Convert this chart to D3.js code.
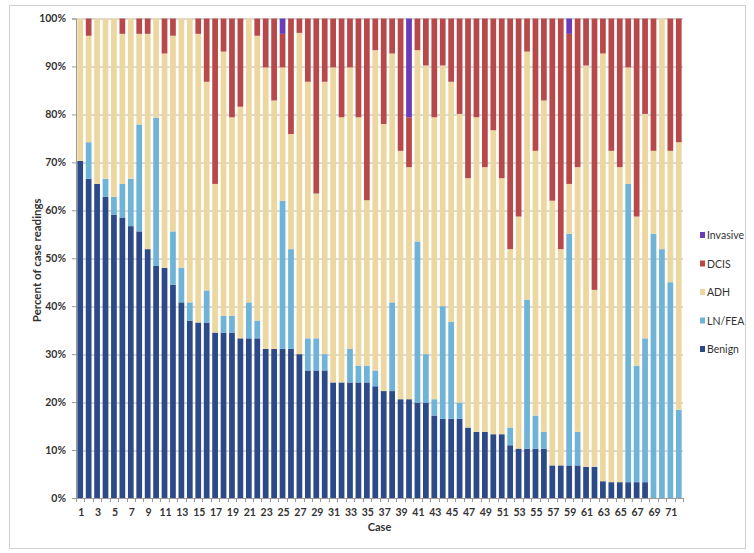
<!DOCTYPE html>
<html>
<head>
<meta charset="utf-8">
<script src="https://cdn.jsdelivr.net/npm/d3@7"></script>
<style>
    body { margin: 0; background: #fff; }
    #chart { width: 754px; height: 553px; }
    text { font-family: Lato, "Open Sans", sans-serif; fill: #333; }
</style>
</head>
<body>
<div id="chart"></div>
<script>
// Case numbers and odd tick labels
const cases = d3.range(1, 73);
const tickLabels = cases.filter((c) => c % 2 === 1);

// Percent of readings per case
const benign = [70.3, 66.6, 65.5, 62.8, 59.1, 58.5, 56.7, 55.6, 51.9, 48.4, 48.0, 44.5, 40.8, 37.0, 36.6, 36.6, 34.5, 34.5,
    34.5, 33.3, 33.3, 33.3, 31.1, 31.1, 31.1, 31.1, 30.0, 26.6, 26.6, 26.6, 24.1, 24.1, 24.1, 24.1, 24.1, 23.3,
    22.3, 22.3, 20.6, 20.6, 19.9, 19.9, 17.2, 16.5, 16.5, 16.5, 14.7, 13.8, 13.8, 13.3, 13.3, 11.0, 10.3, 10.3,
    10.3, 10.3, 6.8, 6.8, 6.8, 6.8, 6.5, 6.5, 3.5, 3.3, 3.3, 3.3, 3.3, 3.3, 0, 0, 0, 0];
const lnfea = [0, 7.6, 0, 3.8, 3.7, 7.0, 9.9, 22.3, 0, 30.9, 0, 11.1, 7.2, 3.8, 0, 6.7, 0, 3.5,
    3.5, 0, 7.5, 3.7, 0, 0, 30.9, 20.8, 0, 6.7, 6.7, 3.4, 0, 0, 7.0, 3.5, 3.5, 3.3,
    0, 18.5, 0, 0, 33.6, 10.1, 3.4, 23.5, 20.2, 3.4, 0, 0, 0, 0, 0, 3.7, 0, 31.1,
    6.9, 3.5, 0, 0, 48.3, 7.0, 0, 0, 0, 0, 0, 62.2, 24.3, 30.0, 55.1, 51.9, 45.0, 18.4];
const adh = [29.7, 22.2, 34.5, 33.4, 37.2, 31.3, 33.4, 18.9, 44.9, 20.7, 44.7, 40.8, 52.0, 59.2, 60.2, 43.5, 31.0, 55.1,
    41.4, 48.3, 59.2, 59.4, 58.7, 51.8, 27.8, 24.0, 67.0, 53.5, 30.2, 56.8, 65.7, 55.3, 58.7, 51.8, 34.5, 66.8,
    55.7, 51.9, 51.8, 48.4, 39.9, 60.2, 58.8, 50.2, 50.1, 60.2, 52.0, 65.6, 55.2, 63.4, 53.4, 37.2, 48.4, 51.7,
    55.2, 69.1, 55.2, 45.1, 10.4, 55.2, 83.7, 36.9, 89.2, 69.1, 65.7, 24.3, 31.1, 46.8, 17.3, 48.1, 27.4, 55.8];
const dcis = [0, 3.6, 0, 0, 0, 3.2, 0, 3.2, 3.2, 0, 7.3, 3.6, 0, 0, 3.2, 13.2, 34.5, 6.9,
    20.6, 18.4, 0, 3.6, 10.2, 17.1, 7.0, 24.1, 3.0, 13.2, 36.5, 13.2, 10.2, 20.6, 10.2, 20.6, 37.9, 6.6,
    22.0, 7.3, 27.6, 10.4, 6.6, 9.8, 20.6, 9.8, 13.2, 19.9, 33.3, 20.6, 31.0, 23.3, 33.3, 48.1, 41.3, 6.9,
    27.6, 17.1, 38.0, 48.1, 31.3, 31.0, 9.8, 56.6, 7.3, 27.6, 31.0, 10.2, 41.3, 19.9, 27.6, 0, 27.6, 25.8];
const invasive = [0, 0, 0, 0, 0, 0, 0, 0, 0, 0, 0, 0, 0, 0, 0, 0, 0, 0,
    0, 0, 0, 0, 0, 0, 3.2, 0, 0, 0, 0, 0, 0, 0, 0, 0, 0, 0,
    0, 0, 0, 20.6, 0, 0, 0, 0, 0, 0, 0, 0, 0, 0, 0, 0, 0, 0,
    0, 0, 0, 0, 3.2, 0, 0, 0, 0, 0, 0, 0, 0, 0, 0, 0, 0, 0];

const seriesKeys = ["benign", "lnfea", "adh", "dcis", "invasive"];
const seriesNames = ["Benign", "LN/FEA", "ADH", "DCIS", "Invasive"];
const yTicks = [0, 10, 20, 30, 40, 50, 60, 70, 80, 90, 100];


class StackedCaseChart {

    constructor(parentElement) {
        this.parentElement = parentElement;
        this.initVis();
    }

    initVis() {
        let vis = this;

        vis.outerWidth = 754;
        vis.outerHeight = 553;
        vis.margin = {top: 18.5, right: 71, bottom: 55, left: 76};
        vis.width = vis.outerWidth - vis.margin.left - vis.margin.right;
        vis.height = vis.outerHeight - vis.margin.top - vis.margin.bottom;

        vis.root = d3.select("#" + vis.parentElement).append("svg")
            .attr("width", vis.outerWidth)
            .attr("height", vis.outerHeight);

        // light frame round the whole chart
        vis.root.append("rect")
            .attr("x", 9.5).attr("y", 5.5)
            .attr("width", 736).attr("height", 543)
            .attr("fill", "none")
            .attr("stroke", "#cfcfcf");

        vis.svg = vis.root.append("g")
            .attr("transform", `translate(${vis.margin.left}, ${vis.margin.top})`);

        vis.x = d3.scaleBand()
            .domain(cases)
            .range([0, vis.width])
            .paddingInner(0.32)
            .paddingOuter(0.16);
        vis.y = d3.scaleLinear()
            .domain([0, 100])
            .range([vis.height, 0]);

        vis.color = d3.scaleOrdinal()
            .domain(seriesKeys)
            .range(["#2d4a88", "#6fb4d7", "#edd7a0", "#b8494b", "#6a3cb6"]);

        vis.wrangleData();
    }

    wrangleData() {
        let vis = this;

        vis.table = cases.map((c, i) => ({
            case: c,
            benign: benign[i],
            lnfea: lnfea[i],
            adh: adh[i],
            dcis: dcis[i],
            invasive: invasive[i]
        }));
        vis.stacked = d3.stack().keys(seriesKeys)(vis.table);

        vis.updateVis();
    }

    updateVis() {
        let vis = this;

        // gridlines
        vis.svg.append("g")
            .selectAll("line")
            .data(yTicks.filter((t) => t > 0))
            .enter()
            .append("line")
            .attr("x1", 0)
            .attr("x2", vis.width)
            .attr("y1", (d) => Math.round(vis.y(d)) + 0.5)
            .attr("y2", (d) => Math.round(vis.y(d)) + 0.5)
            .attr("stroke", "#b4b4b4")
            .attr("stroke-width", 1);

        // stacked bars
        vis.svg.append("g")
            .selectAll("g")
            .data(vis.stacked)
            .enter()
            .append("g")
            .attr("fill", (d) => vis.color(d.key))
            .selectAll("rect")
            .data((d) => d)
            .enter()
            .append("rect")
            .attr("x", (d) => vis.x(d.data.case))
            .attr("width", vis.x.bandwidth())
            .attr("y", (d) => vis.y(d[1]))
            .attr("height", (d) => vis.y(d[0]) - vis.y(d[1]));

        // y axis
        let yAxis = vis.svg.append("g")
            .call(d3.axisLeft(vis.y)
                .tickValues(yTicks)
                .tickSize(4)
                .tickPadding(6)
                .tickFormat((d) => d + "%"));
        yAxis.select(".domain").attr("stroke", "#999");
        yAxis.selectAll(".tick line").attr("stroke", "#999");
        yAxis.selectAll("text")
            .attr("font-size", "10.5px")
            .attr("font-weight", "bold")
            .attr("fill", "#333");

        // x axis: ticks between bars, odd labels
        let xAxisG = vis.svg.append("g")
            .attr("transform", `translate(0, ${vis.height})`);
        xAxisG.append("line")
            .attr("x1", 0).attr("x2", vis.width)
            .attr("y1", 0.5).attr("y2", 0.5)
            .attr("stroke", "#999");
        let step = vis.x.step();
        xAxisG.selectAll(".sep")
            .data(d3.range(0, cases.length + 1))
            .enter()
            .append("line")
            .attr("class", "sep")
            .attr("x1", (d) => Math.round(vis.x(cases[0]) - vis.x.paddingInner() * step / 2 + d * step) + 0.5)
            .attr("x2", (d) => Math.round(vis.x(cases[0]) - vis.x.paddingInner() * step / 2 + d * step) + 0.5)
            .attr("y1", 0)
            .attr("y2", 4)
            .attr("stroke", "#999");
        xAxisG.selectAll(".lab")
            .data(tickLabels)
            .enter()
            .append("text")
            .attr("class", "lab")
            .attr("x", (d) => vis.x(d) + vis.x.bandwidth() / 2 + 1)
            .attr("y", 18)
            .attr("text-anchor", "middle")
            .attr("font-size", "10.5px")
            .attr("font-weight", "bold")
            .text((d) => d);

        // axis titles
        vis.svg.append("text")
            .attr("x", vis.width / 2)
            .attr("y", vis.height + 33)
            .attr("text-anchor", "middle")
            .attr("font-size", "11px")
            .attr("font-weight", "bold")
            .text("Case");
        vis.svg.append("text")
            .attr("transform", `translate(${-vis.margin.left + 41}, ${vis.height / 2 + 2}) rotate(-90)`)
            .attr("text-anchor", "middle")
            .attr("font-size", "11.5px")
            .attr("font-weight", "bold")
            .text("Percent of case readings");

        // legend, top entry is Invasive
        let legendItems = seriesKeys.map((k, i) => ({key: k, name: seriesNames[i]})).reverse();
        let legend = vis.root.append("g")
            .attr("transform", "translate(700, 232)");
        let item = legend.selectAll("g")
            .data(legendItems)
            .enter()
            .append("g")
            .attr("transform", (d, i) => `translate(0, ${i * 28.5})`);
        item.append("rect")
            .attr("width", 5)
            .attr("height", 6)
            .attr("fill", (d) => vis.color(d.key));
        item.append("text")
            .attr("x", 7)
            .attr("y", 7)
            .attr("font-size", "10.5px")
            .text((d) => d.name);
    }
}

new StackedCaseChart("chart");
</script>
</body>
</html>
